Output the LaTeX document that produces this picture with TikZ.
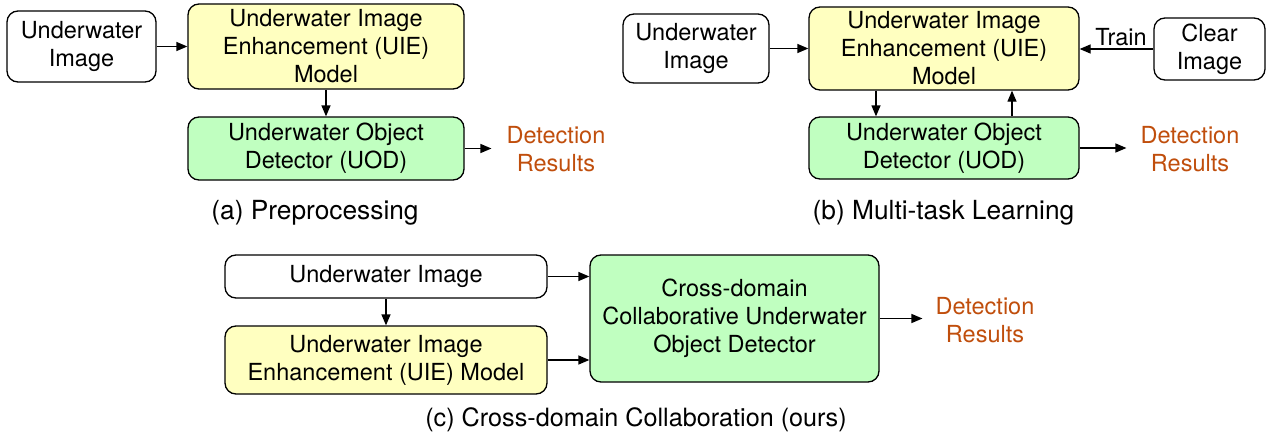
\documentclass[tikz,border=0pt]{standalone}
\usepackage{fontspec}
\setmainfont{TeX Gyre Heros}
\usetikzlibrary{arrows.meta}
\definecolor{uieyellow}{RGB}{255,255,192}
\definecolor{uodgreen}{RGB}{192,255,192}
\definecolor{detorange}{RGB}{192,78,12}
\tikzset{
  box/.style={draw=black, line width=1.3pt, rounded corners=11pt, align=center, inner sep=0pt,
    font=\fontsize{23.5}{28}\selectfont},
  plainbox/.style={box, fill=white},
  yellowbox/.style={box, fill=uieyellow},
  greenbox/.style={box, fill=uodgreen},
  dettext/.style={align=center, inner sep=0pt, text=detorange, font=\fontsize{23.5}{28}\selectfont},
  captext/.style={inner sep=0pt, font=\fontsize{26.3}{31}\selectfont},
  lbltext/.style={inner sep=0pt, font=\fontsize{23.5}{28}\selectfont},
  arr/.style={line width=1.3pt, -{Triangle[length=11pt,width=9pt]}}
}
\begin{document}
\begin{tikzpicture}[x=1pt,y=-1pt]
\useasboundingbox (0,0) rectangle (1274,436);
% (a)
\node[plainbox, minimum width=149pt, minimum height=71pt] (uia) at (81.5,46.5) {Underwater\\Image};
\node[yellowbox, minimum width=276pt, minimum height=85pt] (uiea) at (326,46.5) {Underwater Image\\Enhancement (UIE)\\Model};
\node[greenbox, minimum width=276pt, minimum height=63pt] (uoda) at (326,148.5) {Underwater Object\\Detector (UOD)};
\node[dettext] (deta) at (556,149) {Detection\\Results};
\node[captext] (capa) at (315,213) {(a) Preprocessing};
\draw[arr] (uia.east) -- (uiea.west);
\draw[arr] (uiea.south) -- (uoda.north);
\draw[arr, shorten >=15pt] (uoda.east) -- (uoda.east -| deta.west);
% (b)
\node[plainbox, minimum width=146pt, minimum height=69pt] (uib) at (696,48.5) {Underwater\\Image};
\node[yellowbox, minimum width=270pt, minimum height=83pt] (uieb) at (944,48.5) {Underwater Image\\Enhancement (UIE)\\Model};
\node[greenbox, minimum width=270pt, minimum height=62pt] (uodb) at (944,148) {Underwater Object\\Detector (UOD)};
\node[plainbox, minimum width=111pt, minimum height=62pt] (clear) at (1209.5,49) {Clear\\Image};
\node[lbltext] (train) at (1121,37) {Train};
\node[dettext] (detb) at (1190,149) {Detection\\Results};
\node[captext] (capb) at (943.5,213) {(b) Multi-task Learning};
\draw[arr] (uib.east) -- (uieb.west);
\draw[arr] (clear.west) -- (clear.west -| uieb.east);
\draw[arr] ([xshift=-68pt]uieb.south) -- ([xshift=-68pt]uodb.north);
\draw[arr] ([xshift=68pt]uodb.north) -- ([xshift=68pt]uieb.south);
\draw[arr, shorten >=14pt] (uodb.east) -- (uodb.east -| detb.west);
% (c)
\node[plainbox, minimum width=322pt, minimum height=43pt] (uic) at (386,276.5) {Underwater Image};
\node[yellowbox, minimum width=322pt, minimum height=68pt] (uiec) at (386,360) {Underwater Image\\Enhancement (UIE) Model};
\node[greenbox, minimum width=289pt, minimum height=127pt] (cd) at (734.5,318.5) {Cross-domain\\Collaborative Underwater\\Object Detector};
\node[dettext] (detc) at (985,320) {Detection\\Results};
\node[captext, font=\fontsize{25.2}{30}\selectfont] (capc) at (636,420) {(c) Cross-domain Collaboration (ours)};
\draw[arr] (uic.south) -- (uiec.north);
\draw[arr] (uic.east) -- (uic.east -| cd.west);
\draw[arr] (uiec.east) -- (uiec.east -| cd.west);
\draw[arr, shorten >=13pt] (cd.east) -- (cd.east -| detc.west);
\end{tikzpicture}
\end{document}
